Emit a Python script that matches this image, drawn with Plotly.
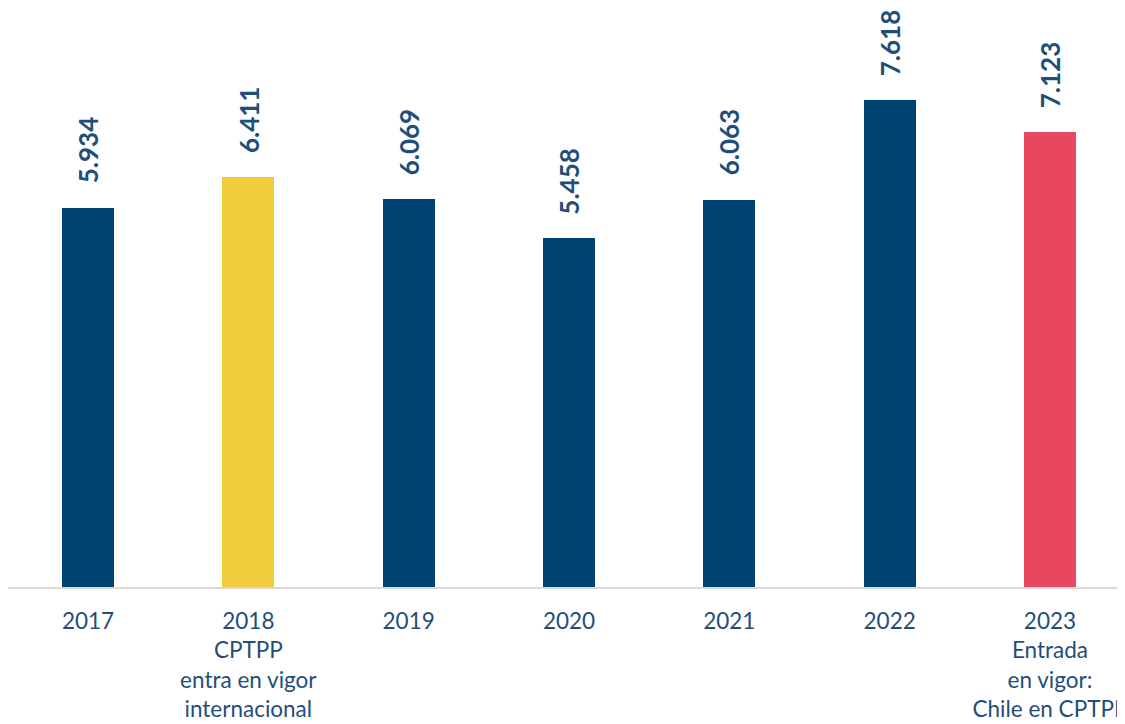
import plotly.graph_objects as go

years = ["2017", "2018", "2019", "2020", "2021", "2022", "2023"]
tick_labels = [
    "2017",
    "2018<br>CPTPP<br>entra en vigor<br>internacional",
    "2019",
    "2020",
    "2021",
    "2022",
    "2023<br>Entrada<br>en vigor:<br>Chile en CPTPP",
]
values = [5.934, 6.411, 6.069, 5.458, 6.063, 7.618, 7.123]
value_labels = ["5.934", "6.411", "6.069", "5.458", "6.063", "7.618", "7.123"]
bar_colors = ["#004373", "#F1CC3C", "#004373", "#004373", "#004373", "#004373", "#E7485F"]

text_color = "#1F4E79"
font_family = "Lato, 'Open Sans', sans-serif"

fig = go.Figure()
fig.add_trace(go.Bar(
    x=years,
    y=values,
    marker=dict(color=bar_colors, line=dict(width=0)),
    width=0.325,
    hoverinfo="skip",
))

for i, (v, lbl) in enumerate(zip(values, value_labels)):
    fig.add_annotation(
        x=i, y=v, xref="x", yref="y", text="<b>" + lbl + "</b>",
        textangle=-90, showarrow=False,
        xanchor="center", yanchor="bottom", yshift=22,
        font=dict(family=font_family, size=26, color=text_color),
    )

fig.update_layout(
    width=1125, height=724,
    margin=dict(l=0, r=0, t=0, b=145),
    paper_bgcolor="white", plot_bgcolor="white",
    showlegend=False,
    bargap=0,
    font=dict(family=font_family, color=text_color),
)
fig.update_xaxes(
    type="category",
    tickmode="array", tickvals=years, ticktext=tick_labels,
    range=[-0.499, 6.518],
    showline=True, linecolor="#D9D9D9", linewidth=2,
    showgrid=False, zeroline=False, automargin=False,
    ticks="", ticklabelstandoff=13,
    tickfont=dict(family=font_family, size=22.5, color=text_color),
)
fig.update_yaxes(
    range=[0, 9.06],
    visible=False, showgrid=False, zeroline=False, automargin=False,
)

fig.write_html("out.html")
